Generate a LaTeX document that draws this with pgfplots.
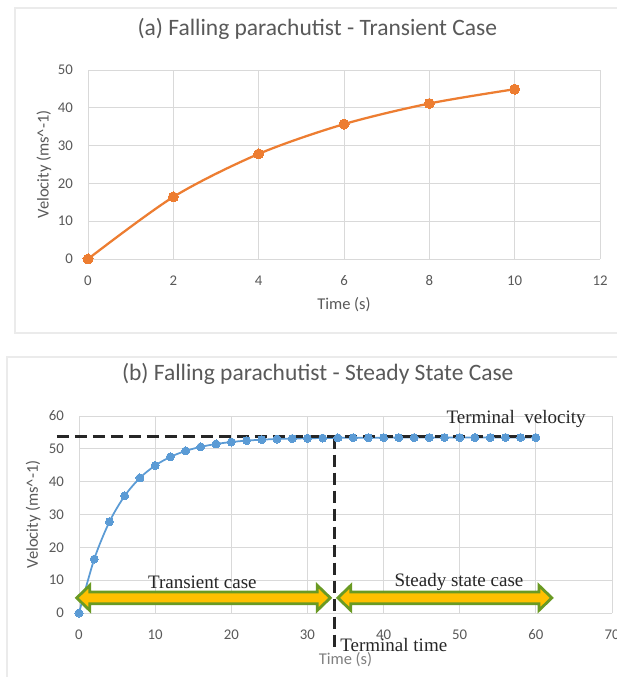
\documentclass[border=0pt]{standalone}
\usepackage{fontspec}
\setmainfont{Carlito}
\newfontfamily\serifan{Liberation Serif}
\usepackage{pgfplots}
\pgfplotsset{compat=1.18}
\definecolor{txtgray}{HTML}{595959}
\definecolor{gridgray}{HTML}{D9D9D9}
\definecolor{xlorange}{HTML}{ED7D31}
\definecolor{xlblue}{HTML}{5B9BD5}
\definecolor{arrfill}{HTML}{FFC000}
\definecolor{arrdraw}{HTML}{6A9A23}
\definecolor{annotc}{HTML}{262626}

\pgfplotsset{
 excel/.style={
  scale only axis, clip=false,
  axis line style={draw=none},
  grid=major, major grid style={gridgray, line width=0.9bp},
  major tick length=0pt,
  tick label style={font=\fontsize{14.8bp}{16bp}\selectfont, text=txtgray, inner sep=0pt},
  /pgf/number format/assume math mode=true,
  xticklabel style={anchor=center, yshift=-22bp},
  yticklabel style={anchor=east, xshift=-15bp},
  label style={font=\fontsize{16.5bp}{18bp}\selectfont, text=txtgray},
  title style={font=\fontsize{23.5bp}{26bp}\selectfont, text=txtgray, anchor=center},
 },
}
\tikzset{
 annot/.style={font=\serifan\fontsize{19bp}{21bp}\selectfont, text=annotc, inner sep=0pt},
 dbl/.style={fill=arrfill, draw=arrdraw, line width=2.8bp, line join=miter},
}

\pgfplotstableread{
t v
0 0
2 16.42
4 27.80
6 35.68
8 41.14
10 44.92
}\transient

\pgfplotstableread{
t v
0 0
2 16.42
4 27.80
6 35.68
8 41.14
10 44.92
12 47.54
14 49.36
16 50.61
18 51.48
20 52.08
22 52.50
24 52.79
26 52.99
28 53.13
30 53.22
32 53.29
34 53.34
36 53.37
38 53.39
40 53.41
42 53.42
44 53.42
46 53.43
48 53.43
50 53.43
52 53.44
54 53.44
56 53.44
58 53.44
60 53.44
}\steady

\begin{document}
\begin{tikzpicture}
\useasboundingbox (0,0) rectangle (617bp,677bp);
\fill[white] (0,0) rectangle (617bp,677bp);
\draw[black!8, line width=1.5bp, fill=white] (15bp,344bp) rectangle (625bp,669bp);
\draw[black!8, line width=1.5bp, fill=white] (7bp,-5bp) rectangle (625bp,320bp);

% ---------- panel (a)
\begin{axis}[excel,
  at={(88bp,418bp)}, anchor=south west,
  width=512bp, height=189bp,
  xmin=0, xmax=12, ymin=0, ymax=50,
  xtick={0,2,...,12}, ytick={0,10,...,50},
  title={(a) Falling parachutist - Transient Case},
  title style={at={(axis description cs:0.448,1.185)}},
  xlabel={Time (s)},
  xlabel style={at={(axis description cs:0.5,-0.243)}, anchor=center},
  ylabel={Velocity (ms\textasciicircum-1)},
  ylabel style={at={(axis description cs:-0.086,0.5)}, anchor=center},
]
\addplot[xlorange, line width=2.25bp, smooth, mark=*, mark size=5bp,
  mark options={fill=xlorange, draw=xlorange, line width=0pt}] table[x=t,y=v] {\transient};
\end{axis}

% ---------- panel (b)
\begin{axis}[excel,
  at={(79bp,64bp)}, anchor=south west,
  width=533bp, height=197bp,
  xmin=0, xmax=70, ymin=0, ymax=60,
  xtick={0,10,...,70}, ytick={0,10,...,60},
  title={(b) Falling parachutist - Steady State Case},
  title style={at={(axis description cs:0.448,1.183)}},
  xlabel={Time (s)},
  xlabel style={at={(axis description cs:0.5,-0.239)}, anchor=center, text=black!50},
  ylabel={Velocity (ms\textasciicircum-1)},
  ylabel style={at={(axis description cs:-0.086,0.5)}, anchor=center},
]
\addplot[xlblue, line width=1.75bp, smooth, mark=*, mark size=4bp,
  mark options={fill=xlblue, draw=xlblue, line width=0pt}] table[x=t,y=v] {\steady};

% double arrows
\draw[dbl] (axis cs:-0.3,4.6) -- (axis cs:1.4,8.4) -- (axis cs:1.4,6.4) -- (axis cs:31.3,6.4)
  -- (axis cs:31.3,8.4) -- (axis cs:33.0,4.6) -- (axis cs:31.3,0.8) -- (axis cs:31.3,2.8)
  -- (axis cs:1.4,2.8) -- (axis cs:1.4,0.8) -- cycle;
\draw[dbl] (axis cs:34.0,4.6) -- (axis cs:35.7,8.4) -- (axis cs:35.7,6.4) -- (axis cs:60.4,6.4)
  -- (axis cs:60.4,8.4) -- (axis cs:62.1,4.6) -- (axis cs:60.4,0.8) -- (axis cs:60.4,2.8)
  -- (axis cs:35.7,2.8) -- (axis cs:35.7,0.8) -- cycle;

% dashed guide lines
\draw[annotc, line width=3bp, dash pattern=on 12bp off 6bp] (axis cs:-2.9,53.7) -- (axis cs:60.3,53.7);
\draw[annotc, line width=3bp, dash pattern=on 12bp off 6bp] (axis cs:33.5,53.7) -- (axis cs:33.5,-11);

% annotations
\node[annot] at (axis cs:57.4,59.1) {Terminal\ \ velocity};
\node[annot] at (axis cs:16.2,9.4) {Transient case};
\node[annot] at (axis cs:49.9,9.4) {Steady state case};
\node[annot, anchor=west] at (axis cs:34.3,-9.7) {Terminal time};
\end{axis}
\end{tikzpicture}
\end{document}
